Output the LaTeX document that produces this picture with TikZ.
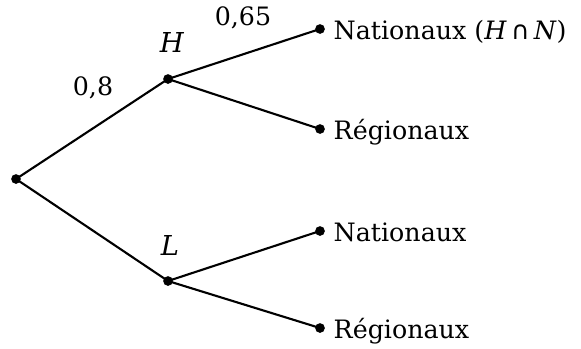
\documentclass[tikz,border=0pt]{standalone}
\usepackage{fontspec}
\setmainfont{DejaVu Serif}
\newfontfamily\symfont{DejaVu Sans}
\usepackage{tikz}
\usetikzlibrary{positioning}

\begin{document}
\begin{tikzpicture}[x=0.01667cm,y=-0.01667cm,line width=1pt,
    pt/.style={circle,fill,inner sep=0pt,minimum size=4.6pt},
    lbl/.style={inner sep=0pt,font=\fontsize{12}{14}\selectfont},
    leaf/.style={lbl,anchor=base west,xshift=6pt,yshift=-4.8pt}]
  \useasboundingbox (0,0) rectangle (581,349);
  % les points de l'arbre
  \node[pt] (R) at (16,179){};
  \node[pt] (H) at (168,79){};
  \node[pt] (L) at (168,281){};
  \node[pt] (HN) at (320,29){};
  \node[pt] (HR) at (320,129){};
  \node[pt] (LN) at (320,231){};
  \node[pt] (LR) at (320,328){};
  \foreach \a/\b in {R/H,R/L,H/HN,H/HR,L/LN,L/LR}
    \draw (\a.center)--(\b.center);
  % issues
  \node[leaf] (tHN) at (HN) {Nationaux (\textit{H}\,{\symfont ∩}\,\textit{N})};
  \node[leaf] (tHR) at (HR) {Régionaux};
  \node[leaf] (tLN) at (LN) {Nationaux};
  \node[leaf] (tLR) at (LR) {Régionaux};
  \node[lbl,font=\fontsize{13}{15}\selectfont] (tH) at (172,43){\textit{H}};
  \node[lbl,font=\fontsize{13}{15}\selectfont] (tL) at (170,246){\textit{L}};
  \node[lbl] (p1) at (93,88){0,8};
  \node[lbl] (p2) at (243,18){0,65};
\end{tikzpicture}
\end{document}
